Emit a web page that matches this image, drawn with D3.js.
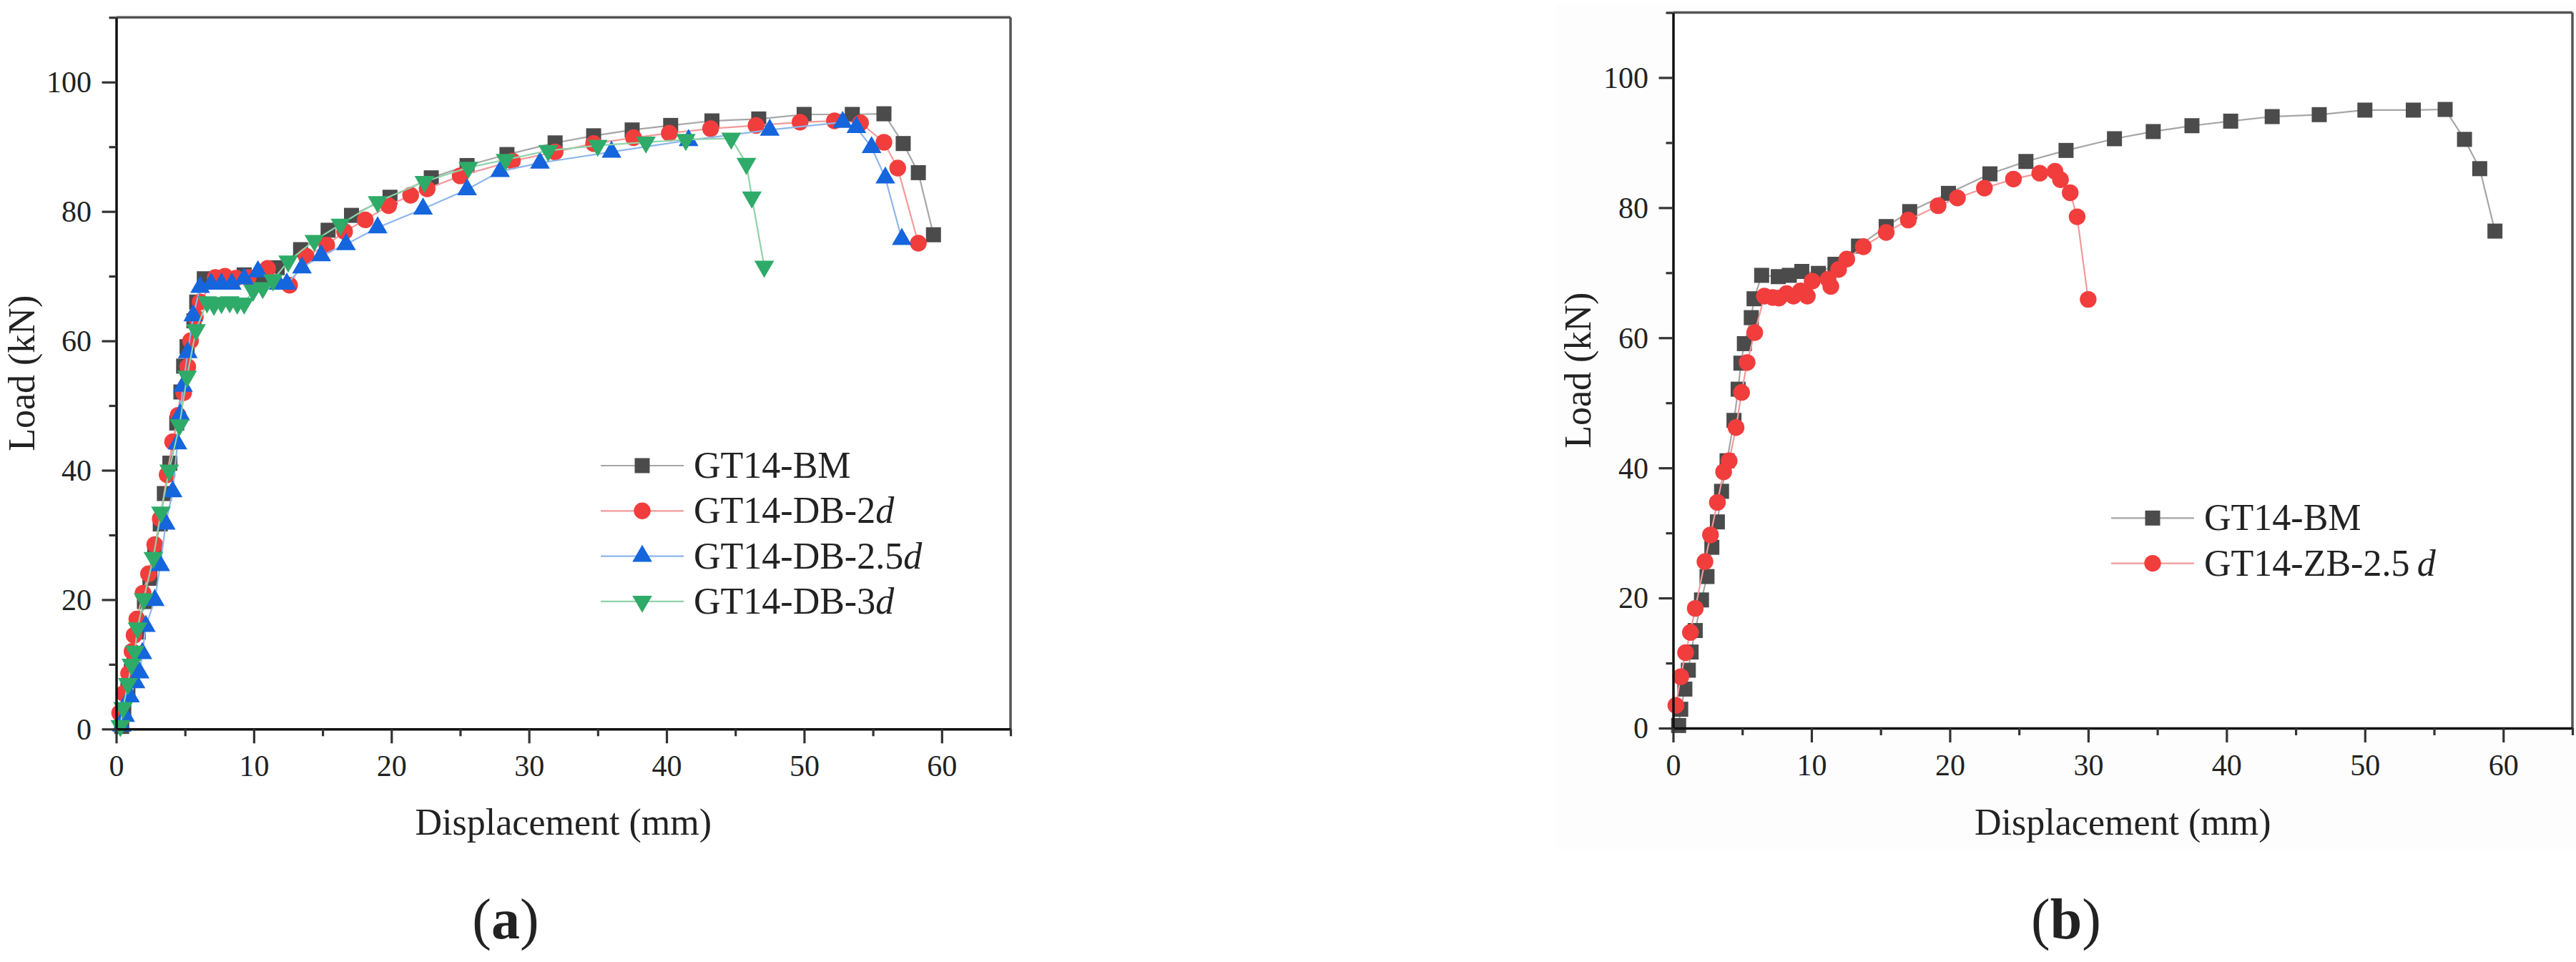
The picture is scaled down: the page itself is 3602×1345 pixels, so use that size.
<!DOCTYPE html>
<html><head><meta charset="utf-8">
<script src="https://cdn.jsdelivr.net/npm/d3@7"></script>
<style>
body{margin:0;background:#fff}
svg{display:block}
text{font-family:"Liberation Serif","Times New Roman",serif;fill:#222}
</style>
</head><body>
<svg id="c" width="3602" height="1345"></svg>
<script>
// ---- data: [displacement (mm), load (kN)] ----
const GT14_BM = [[0.4,0.4],[0.55,2.9],[0.85,6],[1.1,8.9],[1.3,11.7],[1.6,15],[2.05,19.7],[2.45,23.3],[2.8,27.8],[3.2,31.7],[3.5,36.4],[3.9,41.1],[4.4,47.3],[4.7,52.1],[4.9,56.1],[5.15,59.1],[5.65,63.1],[5.85,66],[6.4,69.6],[7.6,69.4],[8.4,69.6],[9.3,70.2],[10.5,69.9],[11.7,71.3],[13.4,74.1],[15.4,77.1],[17.1,79.4],[19.9,82.2],[22.9,85.2],[25.5,87.1],[28.4,88.8],[31.9,90.6],[34.7,91.7],[37.5,92.6],[40.3,93.3],[43.3,94.0],[46.7,94.3],[50.0,95.0],[53.5,95.0],[55.8,95.1],[57.2,90.5],[58.3,86.0],[59.4,76.4]];
const GT14_DB_2d = [[0.25,2.5],[0.55,5.5],[0.9,8.6],[1.15,12],[1.3,14.5],[1.5,17],[1.95,21],[2.35,24],[2.8,28.5],[3.2,32.5],[3.7,39.3],[4.1,44.4],[4.5,48.5],[4.9,52],[5.2,56],[5.4,60],[5.75,63.7],[6.1,66],[7.2,69.8],[7.9,70],[8.7,69.7],[9.6,69.8],[11.0,71.2],[12.6,68.6],[13.8,73.1],[15.3,74.8],[16.6,76.9],[18.1,78.7],[19.8,80.9],[21.4,82.5],[22.6,83.5],[25.0,85.5],[28.8,87.8],[31.9,89.2],[34.7,90.5],[37.6,91.4],[40.2,92.1],[43.2,92.8],[46.5,93.3],[49.7,93.8],[52.2,94.0],[54.1,93.7],[55.8,90.7],[56.8,86.7],[58.3,75.1]];
const GT14_DB_25d = [[0.4,0.5],[0.65,2],[1.0,5],[1.4,7.2],[1.7,8.7],[1.9,11.7],[2.15,15.9],[2.8,19.9],[3.2,25.3],[3.6,31.7],[4.1,36.7],[4.45,44.1],[4.65,48.6],[4.85,53],[5.2,58.2],[5.6,63.9],[6.1,68.3],[6.9,68.8],[7.65,68.8],[8.4,68.8],[9.3,69.6],[10.3,70.7],[11.8,68.8],[12.4,68.8],[13.5,71.3],[14.9,73.2],[16.7,74.9],[19.0,77.5],[22.3,80.4],[25.5,83.4],[27.9,86.2],[30.8,87.5],[36.0,89.2],[41.6,91.0],[47.5,92.6],[52.8,93.8],[53.8,93.0],[54.9,89.9],[55.9,85.2],[57.1,75.7]];
const GT14_DB_3d = [[0.3,0.5],[0.5,3.3],[0.85,7],[1.1,10],[1.35,12],[1.55,15.6],[2.0,20.1],[2.7,26.5],[3.25,33.5],[3.85,40],[4.6,47],[5.15,54.5],[5.8,61.7],[6.6,66],[7.1,65.6],[7.65,65.9],[8.25,66],[8.8,65.8],[9.3,65.8],[9.95,67.8],[10.65,68.2],[11.4,69.4],[12.5,72.3],[14.4,75.5],[16.3,78],[19.0,81.5],[22.4,84.6],[25.6,86.8],[28.3,88],[31.4,89.4],[35.0,90.2],[38.5,90.7],[41.4,91.1],[44.7,91.3],[45.8,87.4],[46.2,82.2],[47.1,71.5]];
const GT14_ZB_25d = [[0.2,3.5],[0.55,7.9],[0.9,11.6],[1.25,14.7],[1.6,18.4],[2.3,25.6],[2.7,29.7],[3.2,34.7],[3.65,39.4],[4.05,41.1],[4.55,46.2],[4.95,51.6],[5.35,56.2],[5.9,60.8],[6.6,66.4],[7.2,66.2],[7.65,66.1],[8.2,66.8],[8.7,66.4],[9.2,67.2],[9.7,66.4],[10.05,68.7],[11.2,69.0],[11.4,67.9],[11.96,70.5],[12.55,72.1],[13.75,74.0],[15.4,76.2],[17.0,78.1],[19.15,80.3],[20.55,81.5],[22.5,83.0],[24.6,84.4],[26.5,85.3],[27.6,85.6],[28.0,84.3],[28.7,82.3],[29.2,78.6],[30.0,65.9]];

const xMajor = [0,10,20,30,40,50,60];
const xMinor = [5,15,25,35,45,55,65];
const yMajor = [0,20,40,60,80,100];
const yMinor = [10,30,50,70,90,110];
const xDomain = [0,65];
const yDomain = [0,110];
const xTitle = "Displacement (mm)";
const yTitle = "Load (kN)";

const SERIF = "'Liberation Serif','Times New Roman',serif";

// ---- styles ----
const sty = {
  bm:   {line:"#a6a6a6", fill:"#4b4b4b", sym:d3.symbolSquare,   size:441, rot:0},
  red:  {line:"#f29a9a", fill:"#f23d3d", sym:d3.symbolCircle,   size:430, rot:0},
  blue: {line:"#8db6ec", fill:"#1565dd", sym:d3.symbolTriangle, size:330, rot:0},
  green:{line:"#8fd3aa", fill:"#2eab69", sym:d3.symbolTriangle, size:330, rot:180}
};

const svg = d3.select("#c");

// faint panel background of (b)
svg.append("rect").attr("x",2175).attr("y",7).attr("width",1427).attr("height",1180).attr("fill","#fdfdfd");

function panel(cfg){
  const g = svg.append("g");
  const x = d3.scaleLinear().domain(xDomain).range([cfg.x0,cfg.x1]);
  const y = d3.scaleLinear().domain(yDomain).range([cfg.y0,cfg.y1]);
  g.append("rect").attr("x",cfg.x0).attr("y",cfg.y1).attr("width",cfg.x1-cfg.x0).attr("height",cfg.y0-cfg.y1).attr("fill","#fff");

  // series
  const line = d3.line().x(d=>x(d[0])).y(d=>y(d[1]));
  cfg.series.forEach(s=>{
    const st = sty[s.style];
    g.append("path").attr("d",line(s.data)).attr("fill","none").attr("stroke",st.line).attr("stroke-width",2.2);
    const sym = d3.symbol().type(st.sym).size(st.size);
    g.selectAll(null).data(s.data).enter().append("path")
      .attr("d",sym)
      .attr("transform",d=>`translate(${x(d[0])},${y(d[1])}) rotate(${st.rot})`)
      .attr("fill",st.fill);
  });

  // frame top/right
  g.append("line").attr("x1",cfg.x0).attr("x2",cfg.x1).attr("y1",cfg.y1).attr("y2",cfg.y1).attr("stroke","#555").attr("stroke-width",3.5);
  g.append("line").attr("x1",cfg.x1).attr("x2",cfg.x1).attr("y1",cfg.y1).attr("y2",cfg.y0).attr("stroke","#555").attr("stroke-width",3.5);

  // axes
  const xa = g.append("g").attr("transform",`translate(0,${cfg.y0})`)
    .call(d3.axisBottom(x).tickValues(xMajor).tickSize(20).tickSizeOuter(0).tickPadding(0).tickFormat(d3.format("d")));
  g.append("g").attr("transform",`translate(0,${cfg.y0})`)
    .call(d3.axisBottom(x).tickValues(xMinor).tickSize(10).tickSizeOuter(0).tickFormat(""))
    .call(a=>a.select(".domain").remove());
  const ya = g.append("g").attr("transform",`translate(${cfg.x0},0)`)
    .call(d3.axisLeft(y).tickValues(yMajor).tickSize(20).tickSizeOuter(0).tickPadding(0).tickFormat(d3.format("d")));
  g.append("g").attr("transform",`translate(${cfg.x0},0)`)
    .call(d3.axisLeft(y).tickValues(yMinor).tickSize(10).tickSizeOuter(0).tickFormat(""))
    .call(a=>a.select(".domain").remove());
  xa.attr("font-family",SERIF); ya.attr("font-family",SERIF);
  g.selectAll(".domain").attr("stroke","#111").attr("stroke-width",3.5);
  g.selectAll(".tick line").attr("stroke","#333").attr("stroke-width",3.2);
  xa.selectAll(".tick text").attr("y",66).attr("dy",0).attr("font-size",42).attr("fill","#333")
    .style("font-family",SERIF);
  ya.selectAll(".tick text").attr("x",-34.5).attr("dy","0.33em").attr("font-size",42).attr("fill","#333")
    .style("font-family",SERIF);

  // titles
  g.append("text").attr("x",(cfg.x0+cfg.x1)/2).attr("y",1167).attr("text-anchor","middle").attr("font-size",52).text(xTitle);
  g.append("text").attr("transform",`translate(${cfg.ylx},${(cfg.y0+cfg.y1)/2}) rotate(-90)`)
    .attr("text-anchor","middle").attr("dy","0.33em").attr("font-size",52).text(yTitle);

  // legend
  cfg.series.forEach((s,i)=>{
    const st = sty[s.style];
    const ly = cfg.leg.y + i*63.3;
    g.append("line").attr("x1",cfg.leg.x).attr("x2",cfg.leg.x+116).attr("y1",ly).attr("y2",ly).attr("stroke",st.line).attr("stroke-width",2.2);
    g.append("path").attr("d",d3.symbol().type(st.sym).size(st.size)).attr("transform",`translate(${cfg.leg.x+58},${ly}) rotate(${st.rot})`).attr("fill",st.fill);
    const t = g.append("text").attr("x",cfg.leg.x+130).attr("y",ly).attr("dy","0.33em").attr("font-size",52);
    t.append("tspan").text(s.name);
    if(s.suffix) t.append("tspan").attr("font-style","italic").text(s.suffix);
  });

  // panel label
  const pl = g.append("text").attr("x",cfg.lab.x).attr("y",1312).attr("text-anchor","middle").attr("font-size",80);
  pl.append("tspan").text("(");
  pl.append("tspan").attr("font-weight","bold").text(cfg.lab.t);
  pl.append("tspan").text(")");
}

panel({x0:162.5,x1:1413,y0:1019.3,y1:24.3,ylx:31,
  leg:{x:840,y:651}, lab:{x:707,t:"a"},
  series:[
    {data:GT14_BM, style:"bm", name:"GT14-BM", suffix:""},
    {data:GT14_DB_2d, style:"red", name:"GT14-DB-2", suffix:"d"},
    {data:GT14_DB_25d, style:"blue", name:"GT14-DB-2.5", suffix:"d"},
    {data:GT14_DB_3d, style:"green", name:"GT14-DB-3", suffix:"d"}
  ]});
panel({x0:2339.5,x1:3597,y0:1018,y1:17.5,ylx:2207,
  leg:{x:2952,y:724.3}, lab:{x:2889,t:"b"},
  series:[
    {data:GT14_BM, style:"bm", name:"GT14-BM", suffix:""},
    {data:GT14_ZB_25d, style:"red", name:"GT14-ZB-2.5\u2009", suffix:"d"}
  ]});
</script>
</body></html>
